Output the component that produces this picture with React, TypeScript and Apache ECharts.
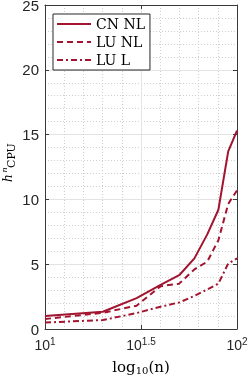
import React, { useEffect, useRef } from 'react';
import * as echarts from 'echarts';

const nValues = [10, 20, 30, 40, 50, 60, 70, 80, 90, 100];
const cnNL = [1.0, 1.33, 2.38, 3.4, 4.15, 5.45, 7.3, 9.2, 13.7, 15.3];
const luNL = [0.77, 1.25, 1.8, 3.3, 3.5, 4.6, 5.2, 6.85, 9.65, 10.7];
const luL = [0.5, 0.69, 1.23, 1.72, 2.05, 2.55, 3.05, 3.5, 5.05, 5.45];
const seriesNames = ['CN NL', 'LU NL', 'LU L'];
const xTickExponents = ['1', '1.5', '2'];

const COLOR = '#A2142F';
const AXIS = '#3a3a3a';
const GRID = '#e3e3e3';
const MINOR = '#cfcfcf';

export default function App() {
  const ref = useRef<HTMLDivElement>(null);
  useEffect(() => {
    const chart = echarts.init(ref.current!, null, { renderer: 'svg' });
    const mk = (arr: number[]) => nValues.map((n, i) => [n, arr[i]]);
    const lineTypes: any[] = ['solid', [6, 4], [6, 3, 2, 3]];
    const datasets = [cnNL, luNL, luL];
    chart.setOption({
      animation: false,
      grid: { left: 45, right: 12, top: 5, bottom: 48, containLabel: false, outerBoundsMode: 'none' },
      xAxis: [
        {
          type: 'log', logBase: 10, min: 10, max: 100, position: 'bottom',
          axisLine: { show: true, lineStyle: { color: AXIS, width: 1 } },
          axisTick: { show: false }, axisLabel: { show: false },
          splitLine: { show: false }, minorSplitLine: { show: false },
        },
        {
          type: 'value', min: 1, max: 2, interval: 0.5, position: 'bottom',
          axisLine: { show: false },
          axisTick: { show: true, inside: true, length: 4, lineStyle: { color: AXIS } },
          minorTick: { show: false, splitNumber: 5 },
          splitLine: { show: true, lineStyle: { color: GRID, width: 1 } },
          minorSplitLine: { show: true, lineStyle: { color: MINOR, width: 1, type: [1, 2] } },
          axisLabel: {
            margin: 7,
            formatter: (_v: number, i: number) => `{b|10}{s|${xTickExponents[i]}}`,
            rich: {
              b: { fontSize: 14, fontFamily: 'Liberation Sans', color: '#262626', verticalAlign: 'bottom', lineHeight: 16 },
              s: { fontSize: 10, fontFamily: 'Liberation Sans', color: '#262626', verticalAlign: 'top', lineHeight: 10, padding: [0, 0, 12, 0] },
            },
          },
          name: '{a|log}{s|10}{a|(n)}',
          nameLocation: 'middle',
          nameGap: 30,
          nameMoveOverlap: false,
          nameTextStyle: {
            rich: {
              a: { fontSize: 15, fontFamily: 'DejaVu Serif', color: '#000', verticalAlign: 'top', lineHeight: 15 },
              s: { fontSize: 10, fontFamily: 'DejaVu Serif', color: '#000', verticalAlign: 'top', lineHeight: 10, padding: [6, 0, 0, 0] },
            },
          },
        },
        {
          type: 'value', min: 1, max: 2, interval: 0.5, position: 'top',
          axisLine: { show: true, lineStyle: { color: AXIS, width: 1 } },
          axisTick: { show: true, inside: true, length: 4, lineStyle: { color: AXIS } },
          axisLabel: { show: false }, splitLine: { show: false },
        },
      ],
      yAxis: [
        {
          type: 'value', min: 0, max: 25, interval: 5, position: 'left',
          axisLine: { show: true, lineStyle: { color: AXIS, width: 1 } },
          axisTick: { show: true, inside: true, length: 4, lineStyle: { color: AXIS } },
          minorTick: { show: false, splitNumber: 5 },
          axisLabel: { fontSize: 15, fontFamily: 'Liberation Sans', color: '#262626', margin: 6 },
          splitLine: { show: true, lineStyle: { color: GRID, width: 1 } },
          minorSplitLine: { show: true, lineStyle: { color: MINOR, width: 1, type: [1, 2] } },
        },
        {
          type: 'value', min: 0, max: 25, interval: 5, position: 'right',
          axisLine: { show: true, lineStyle: { color: AXIS, width: 1 } },
          axisTick: { show: true, inside: true, length: 4, lineStyle: { color: AXIS } },
          axisLabel: { show: false }, splitLine: { show: false },
        },
      ],
      legend: {
        data: seriesNames,
        orient: 'vertical',
        left: 53, top: 14,
        itemWidth: 34, itemHeight: 14, itemGap: 4,
        padding: [3, 5, 3, 3],
        borderColor: '#262626', borderWidth: 1, backgroundColor: '#fff',
        itemStyle: { opacity: 0 },
        textStyle: { fontFamily: 'DejaVu Serif', fontSize: 14, color: '#000' },
      },
      graphic: [
        {
          type: 'group', x: 1, y: 182, rotation: Math.PI / 2,
          children: [
            { type: 'text', x: 0, y: 6.5, style: { text: 'h', font: 'italic 12px "DejaVu Serif"', fill: '#000', verticalAlign: 'middle' } },
            { type: 'text', x: 9.5, y: 3, style: { text: 'n', font: 'italic 8px "DejaVu Serif"', fill: '#000', verticalAlign: 'middle' } },
            { type: 'text', x: 14, y: 10, style: { text: 'CPU', font: '11px "DejaVu Serif"', fill: '#000', verticalAlign: 'middle' } },
          ],
        },
      ],
      series: datasets.map((arr, i) => ({
        name: seriesNames[i],
        type: 'line',
        xAxisIndex: 0,
        yAxisIndex: 0,
        data: mk(arr),
        symbol: 'none',
        lineStyle: { color: COLOR, width: 2, type: lineTypes[i] },
        itemStyle: { color: COLOR },
      })),
    });
    return () => chart.dispose();
  }, []);
  return <div ref={ref} style={{ position: 'fixed', left: 0, top: 0, width: 249, height: 377 }} />;
}
